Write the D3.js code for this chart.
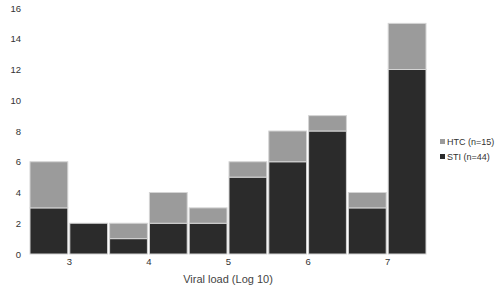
<!DOCTYPE html>
<html>
<head>
<meta charset="utf-8">
<script src="https://cdn.jsdelivr.net/npm/d3@7"></script>
<style>
  body { margin: 0; background: #fff; }
  svg { font-family: "Liberation Sans", Arial, sans-serif; }
</style>
</head>
<body>
<svg id="chart" width="495" height="290"></svg>
<script>
// bin start (log10 viral load), each bin is 0.5 wide
var binStarts = [2.5, 3, 3.5, 4, 4.5, 5, 5.5, 6, 6.5, 7];
var sti = [3, 2, 1, 2, 2, 5, 6, 8, 3, 12];
var htc = [3, 0, 1, 2, 1, 1, 2, 1, 1, 3];
var yTicks = [0, 2, 4, 6, 8, 10, 12, 14, 16];
var xTicks = [3, 4, 5, 6, 7];
var seriesNames = ["HTC (n=15)", "STI (n=44)"];
var colors = {sti: "#2b2b2b", htc: "#9b9b9b"};

var svg = d3.select("#chart");

var x = d3.scaleLinear().domain([2.5, 7.5]).range([29, 427]);
var y = d3.scaleLinear().domain([0, 16]).range([254, 8]);

var data = binStarts.map(function (b, i) {
    return {x0: b, x1: b + 0.5, sti: sti[i], htc: htc[i]};
});

// bars - STI at bottom, HTC stacked on top
var bars = svg.append("g");
bars.selectAll("rect.sti")
    .data(data)
    .enter().append("rect")
    .attr("class", "sti")
    .attr("x", function (d) { return x(d.x0) + 1; })
    .attr("width", function (d) { return x(d.x1) - x(d.x0) - 2; })
    .attr("y", function (d) { return y(d.sti); })
    .attr("height", function (d) { return y(0) - y(d.sti); })
    .style("fill", colors.sti)
    .style("stroke", "#d4d4d4")
    .style("stroke-width", 1);

bars.selectAll("rect.htc")
    .data(data.filter(function (d) { return d.htc > 0; }))
    .enter().append("rect")
    .attr("class", "htc")
    .attr("x", function (d) { return x(d.x0) + 1; })
    .attr("width", function (d) { return x(d.x1) - x(d.x0) - 2; })
    .attr("y", function (d) { return y(d.sti + d.htc); })
    .attr("height", function (d) { return y(d.sti) - y(d.sti + d.htc); })
    .style("fill", colors.htc)
    .style("stroke", "#d4d4d4")
    .style("stroke-width", 1);

// y axis (labels only)
var yAxis = svg.append("g")
    .attr("transform", "translate(21,0)")
    .call(d3.axisLeft(y).tickValues(yTicks).tickFormat(d3.format("d")).tickSize(0).tickPadding(0));
yAxis.select(".domain").remove();
yAxis.selectAll("text").style("font-size", "9.5px").style("fill", "#333");

// x axis (labels only)
var xAxis = svg.append("g")
    .attr("transform", "translate(0,258)")
    .call(d3.axisBottom(x).tickValues(xTicks).tickFormat(d3.format("d")).tickSize(0).tickPadding(0));
xAxis.select(".domain").remove();
xAxis.selectAll("text").style("font-size", "9.5px").style("fill", "#333");

svg.append("text")
    .attr("x", 228)
    .attr("y", 283)
    .attr("text-anchor", "middle")
    .style("font-size", "11px")
    .style("fill", "#444")
    .text("Viral load (Log 10)");

// legend
var legend = svg.append("g").selectAll("g")
    .data(seriesNames)
    .enter().append("g")
    .attr("transform", function (d, i) { return "translate(440," + (142 + i * 15) + ")"; });
legend.append("rect")
    .attr("x", 0).attr("y", -3)
    .attr("width", 5).attr("height", 5)
    .style("fill", function (d, i) { return i === 0 ? colors.htc : colors.sti; });
legend.append("text")
    .attr("x", 7).attr("y", 3)
    .style("font-size", "9px")
    .style("fill", "#333")
    .text(function (d) { return d; });
</script>
</body>
</html>
